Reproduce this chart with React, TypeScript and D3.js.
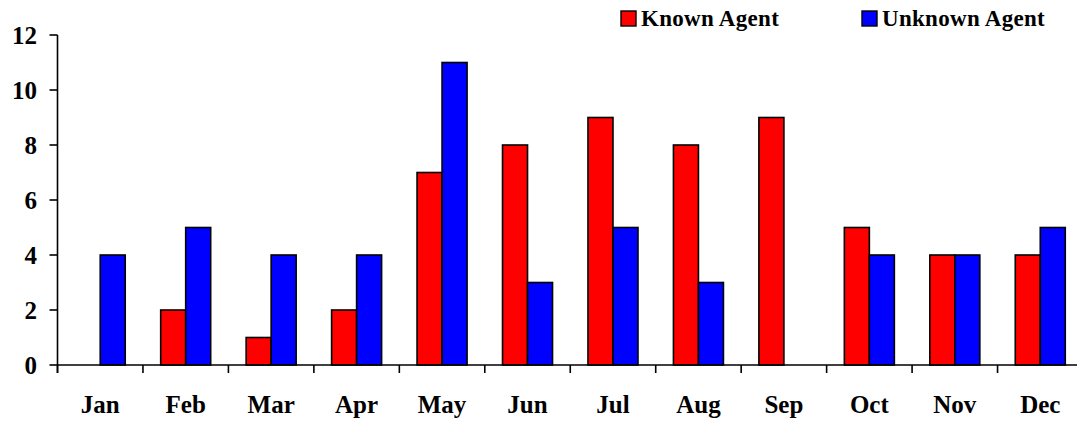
import React from "react";
import * as d3 from "d3";

const months = ["Jan", "Feb", "Mar", "Apr", "May", "Jun", "Jul", "Aug", "Sep", "Oct", "Nov", "Dec"];
const knownAgent = [0, 2, 1, 2, 7, 8, 9, 8, 9, 5, 4, 4];
const unknownAgent = [4, 5, 4, 4, 11, 3, 5, 3, 0, 4, 4, 5];
const yTicks = [0, 2, 4, 6, 8, 10, 12];
const seriesNames = ["Known Agent", "Unknown Agent"];
const seriesColors = ["#ff0000", "#0000ff"];

const W = 1077;
const H = 422;
const FONT = "'Liberation Serif', 'Times New Roman', serif";

export default function App() {
  const x = d3.scaleBand<string>().domain(months).range([57.5, 1083]).paddingInner(0).paddingOuter(0);
  const y = d3.scaleLinear().domain([0, 12]).range([365, 35]);
  const barW = 25;
  const x0 = 57.5;
  const legendX = [621, 862];
  return (
    <svg width={W} height={H} style={{ position: "absolute", left: 0, top: 0, background: "#fff" }}>
      <rect x={0} y={0} width={W} height={H} fill="#fff" />
      {months.map((m, i) => {
        const c = (x(m) as number) + x.bandwidth() / 2;
        const vals = [knownAgent[i], unknownAgent[i]];
        return (
          <g key={m}>
            {vals.map((v, s) =>
              v > 0 ? (
                <rect
                  key={s}
                  x={c - barW + s * barW}
                  y={y(v)}
                  width={barW}
                  height={y(0) - y(v)}
                  fill={seriesColors[s]}
                  stroke="#000"
                  strokeWidth={1.6}
                />
              ) : null
            )}
          </g>
        );
      })}
      <line x1={x0} x2={x0} y1={y(12)} y2={y(0) + 8} stroke="#000" strokeWidth={1.6} />
      {yTicks.map((t) => (
        <g key={t}>
          <line x1={x0 - 8} x2={x0} y1={y(t)} y2={y(t)} stroke="#000" strokeWidth={1.6} />
          <text
            x={37}
            y={y(t)}
            dy="0.35em"
            textAnchor="end"
            fontFamily={FONT}
            fontWeight="bold"
            fontSize={25}
          >
            {t}
          </text>
        </g>
      ))}
      <line x1={x0} x2={1083} y1={y(0)} y2={y(0)} stroke="#000" strokeWidth={1.6} />
      {months.map((m) => (
        <g key={m}>
          <line x1={x(m) as number} x2={x(m) as number} y1={y(0)} y2={y(0) + 8} stroke="#000" strokeWidth={1.6} />
          <text
            x={(x(m) as number) + x.bandwidth() / 2}
            y={413}
            textAnchor="middle"
            fontFamily={FONT}
            fontWeight="bold"
            fontSize={25}
          >
            {m}
          </text>
        </g>
      ))}
      {seriesNames.map((n, s) => {
        const lx = legendX[s];
        return (
          <g key={n}>
            <rect x={lx} y={11} width={15} height={15} fill={seriesColors[s]} stroke="#000" strokeWidth={1.4} />
            <text x={lx + 20} y={26} fontFamily={FONT} fontWeight="bold" fontSize={23} letterSpacing={0.3}>
              {n}
            </text>
          </g>
        );
      })}
    </svg>
  );
}
